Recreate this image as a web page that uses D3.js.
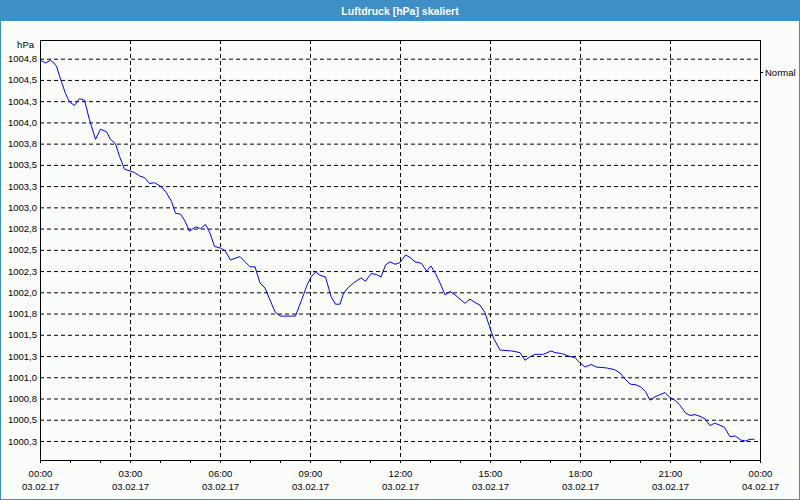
<!DOCTYPE html>
<html>
<head>
<meta charset="utf-8">
<script src="https://cdn.jsdelivr.net/npm/d3@7"></script>
<style>
  html, body { margin: 0; padding: 0; background: #ffffff; }
  svg { display: block; }
  text { font-family: "Liberation Sans", Arial, sans-serif; }
</style>
</head>
<body>
<div id="chart"></div>
<script>
// ---------- DATA ----------
const title = "Luftdruck [hPa] skaliert";
const unitLabel = "hPa";
const seriesName = "Normal";
const startDate = "2017-02-03T00:00:00";
// minutes since 03.02.17 00:00
const times = [1, 11, 21, 28, 33, 41, 51, 59, 69, 79, 89, 99, 111, 121, 133, 141, 151, 159, 169, 189,
  199, 209, 219, 229, 243, 253, 263, 271, 281, 289, 299, 311, 321, 331, 339, 349, 361, 370, 381, 390,
  400, 410, 420, 430, 440, 450, 460, 470, 480, 511, 518, 527, 533, 542, 551, 560, 571, 582, 591, 600,
  607, 617, 627, 642, 651, 662, 673, 682, 691, 700, 710, 720, 731, 740, 750, 763, 773, 782, 791, 800,
  810, 820, 830, 840, 850, 860, 870, 880, 890, 900, 907, 920, 943, 960, 970, 980, 990, 1007, 1022, 1030,
  1043, 1057, 1070, 1080, 1090, 1102, 1113, 1133, 1149, 1160, 1170, 1180, 1193, 1203, 1211, 1220, 1230, 1250, 1260, 1270,
  1280, 1291, 1300, 1310, 1320, 1330, 1340, 1349, 1358, 1369, 1380, 1390, 1402, 1411, 1420, 1429];
const values = [1004.73, 1004.70, 1004.73, 1004.70, 1004.66, 1004.51, 1004.34, 1004.24, 1004.20, 1004.28,
  1004.26, 1004.03, 1003.80, 1003.92, 1003.89, 1003.80, 1003.75, 1003.60, 1003.45, 1003.41,
  1003.37, 1003.35, 1003.28, 1003.29, 1003.24, 1003.17, 1003.07, 1002.93, 1002.92, 1002.85,
  1002.72, 1002.77, 1002.75, 1002.80, 1002.71, 1002.54, 1002.52, 1002.49, 1002.38, 1002.40,
  1002.42, 1002.36, 1002.30, 1002.30, 1002.11, 1002.05, 1001.91, 1001.77, 1001.72, 1001.72,
  1001.83, 1001.97, 1002.07, 1002.18, 1002.24, 1002.20, 1002.18, 1001.95, 1001.86, 1001.86,
  1001.99, 1002.06, 1002.11, 1002.17, 1002.13, 1002.22, 1002.21, 1002.18, 1002.32, 1002.36,
  1002.33, 1002.35, 1002.44, 1002.41, 1002.36, 1002.34, 1002.25, 1002.31, 1002.22, 1002.11,
  1001.97, 1002.01, 1001.97, 1001.92, 1001.87, 1001.92, 1001.88, 1001.85, 1001.76, 1001.58,
  1001.46, 1001.32, 1001.31, 1001.29, 1001.20, 1001.24, 1001.27, 1001.27, 1001.31, 1001.29,
  1001.28, 1001.25, 1001.23, 1001.17, 1001.12, 1001.15, 1001.12, 1001.11, 1001.09, 1001.05,
  1000.98, 1000.92, 1000.91, 1000.88, 1000.83, 1000.73, 1000.77, 1000.82, 1000.76, 1000.73,
  1000.67, 1000.58, 1000.55, 1000.56, 1000.54, 1000.51, 1000.43, 1000.46, 1000.44, 1000.41,
  1000.30, 1000.31, 1000.26, 1000.25, 1000.27, 1000.27];
const yTicks = [1000.25, 1000.5, 1000.75, 1001.0, 1001.25, 1001.5, 1001.75, 1002.0, 1002.25, 1002.5,
  1002.75, 1003.0, 1003.25, 1003.5, 1003.75, 1004.0, 1004.25, 1004.5, 1004.75];
const yDomain = [1000.026, 1004.97];
const xMajorHours = [0, 3, 6, 9, 12, 15, 18, 21, 24];
const xTimeLabels = ["00:00", "03:00", "06:00", "09:00", "12:00", "15:00", "18:00", "21:00", "00:00"];
const xDateLabels = ["03.02.17", "03.02.17", "03.02.17", "03.02.17", "03.02.17", "03.02.17", "03.02.17", "03.02.17", "04.02.17"];
const xMinorHours = d3.range(0, 25);

// ---------- LAYOUT ----------
const W = 800, H = 500;
const m = { left: 40, right: 40, top: 40, bottom: 40 };
const pw = W - m.left - m.right, ph = H - m.top - m.bottom;
const blue = "#3d8fc6";

const base = new Date(startDate);
const hourDate = h => new Date(base.getTime() + h * 3600000);
const data = times.map((t, i) => ({ t: new Date(base.getTime() + t * 60000), v: values[i] }));

const x = d3.scaleTime().domain([hourDate(0), hourDate(24)]).range([m.left, m.left + pw]);
const y = d3.scaleLinear().domain(yDomain).range([m.top + ph, m.top]);

const svg = d3.select("#chart").append("svg").attr("width", W).attr("height", H);

// background + border
svg.append("rect").attr("x", 0.5).attr("y", 0.5).attr("width", W - 1).attr("height", H - 1)
  .attr("fill", "#fbfdfb").attr("stroke", blue);
// title bar
svg.append("rect").attr("x", 0).attr("y", 0).attr("width", W).attr("height", 21).attr("fill", blue);
svg.append("text").attr("x", W / 2).attr("y", 14.5).attr("text-anchor", "middle")
  .attr("fill", "#ffffff").attr("font-weight", "bold").attr("font-size", "10.5px").text(title);

// horizontal grid + y labels
const fmtY = v => v.toFixed(1).replace(".", ",");
const yAxis = svg.append("g").attr("transform", `translate(${m.left},0)`)
  .call(d3.axisLeft(y).tickValues(yTicks).tickSize(-pw).tickPadding(3).tickFormat(fmtY));
yAxis.select(".domain").remove();
yAxis.selectAll(".tick line").attr("stroke", "#000").attr("stroke-dasharray", "4,3");
yAxis.selectAll(".tick text").attr("font-size", "9.5px").attr("fill", "#000")
  .attr("font-family", "Liberation Sans, Arial, sans-serif");

// vertical grid
svg.append("g").selectAll("line")
  .data(xMajorHours.filter(h => h > 0 && h < 24))
  .join("line")
  .attr("x1", h => Math.round(x(hourDate(h))) + 0.5).attr("x2", h => Math.round(x(hourDate(h))) + 0.5)
  .attr("y1", m.top).attr("y2", m.top + ph)
  .attr("stroke", "#000").attr("stroke-dasharray", "4,3");

// unit label
svg.append("text").attr("x", 34).attr("y", 48).attr("text-anchor", "end")
  .attr("font-size", "9.5px").attr("fill", "#000").text(unitLabel);

// minor x ticks
const minorAxis = svg.append("g").attr("transform", `translate(0,${m.top + ph})`)
  .call(d3.axisBottom(x).tickValues(xMinorHours.map(hourDate)).tickSize(3).tickFormat(""));
minorAxis.select(".domain").remove();
minorAxis.selectAll(".tick line").attr("stroke", "#000");

// major x axis labels
const xAxis = svg.append("g").attr("transform", `translate(0,${m.top + ph})`)
  .call(d3.axisBottom(x).tickValues(xMajorHours.map(hourDate)).tickSize(3).tickPadding(7)
    .tickFormat((d, i) => xTimeLabels[i]));
xAxis.select(".domain").remove();
xAxis.selectAll(".tick line").attr("stroke", "#000");
xAxis.selectAll(".tick text").attr("font-size", "9.5px").attr("fill", "#000")
  .attr("font-family", "Liberation Sans, Arial, sans-serif");
xAxis.selectAll(".tick").append("text")
  .attr("y", 23).attr("dy", "0.71em").attr("text-anchor", "middle")
  .attr("font-size", "9.5px").attr("fill", "#000")
  .attr("font-family", "Liberation Sans, Arial, sans-serif")
  .text((d, i) => xDateLabels[i]);

// plot box
svg.append("rect").attr("x", m.left + 0.5).attr("y", m.top + 0.5).attr("width", pw).attr("height", ph)
  .attr("fill", "none").attr("stroke", "#000");

// clip
svg.append("clipPath").attr("id", "clip").append("rect")
  .attr("x", m.left).attr("y", m.top).attr("width", pw).attr("height", ph);

// line
const line = d3.line().x(d => x(d.t)).y(d => y(d.v));
svg.append("path").datum(data).attr("clip-path", "url(#clip)")
  .attr("fill", "none").attr("stroke", "#0000ff").attr("stroke-width", 1).attr("d", line);

// legend
const ly = 72.5;
svg.append("line").attr("x1", m.left + pw).attr("x2", m.left + pw + 3).attr("y1", ly).attr("y2", ly)
  .attr("stroke", "#000");
svg.append("text").attr("x", 765).attr("y", ly).attr("dy", "0.35em")
  .attr("font-size", "9.5px").attr("fill", "#000").text(seriesName);
</script>
</body>
</html>
